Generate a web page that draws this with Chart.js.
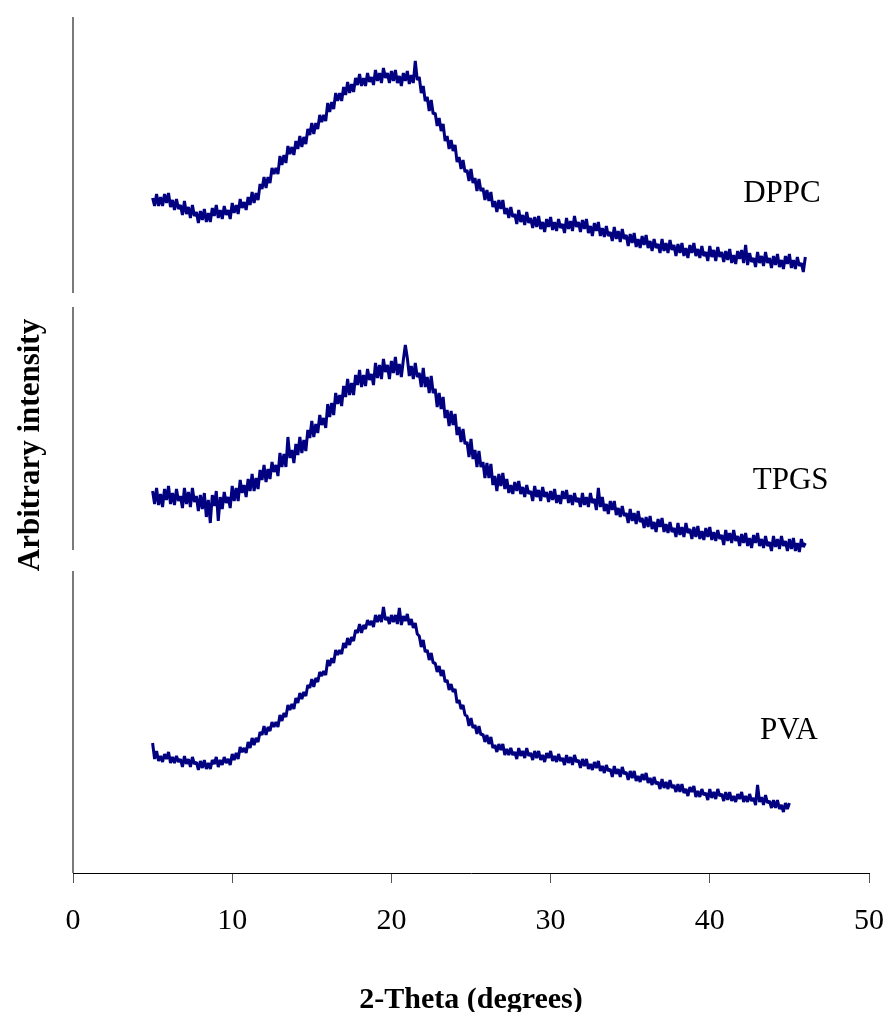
<!DOCTYPE html>
<html>
<head>
<meta charset="utf-8">
<script src="https://cdn.jsdelivr.net/npm/chart.js@4/dist/chart.umd.min.js"></script>
<style>
  body { margin: 0; background: #fff; }
</style>
</head>
<body>
<canvas id="myChart" width="885" height="1012"></canvas>
<script>
'use strict';

// 2-theta sampling: from 5 deg, every 0.125 deg
const twoThetaStart = 5;
const twoThetaStep = 0.125;

// arbitrary intensity (each trace sits in its own band)
const dppc = [
  675, 667, 679, 667, 676, 667, 679, 670, 680, 666, 673, 663, 674, 664, 668, 658, 672, 659, 666, 655,
  668, 657, 661, 650, 662, 653, 664, 651, 660, 651, 665, 657, 668, 655, 663, 654, 667, 658, 663, 654,
  670, 660, 668, 659, 674, 665, 671, 663, 676, 668, 681, 670, 680, 673, 689, 684, 696, 685, 696, 690,
  705, 699, 705, 699, 717, 708, 718, 710, 727, 719, 726, 718, 732, 724, 737, 726, 736, 729, 744, 738,
  750, 739, 750, 744, 758, 751, 758, 752, 770, 761, 771, 764, 780, 772, 780, 772, 786, 778, 791, 780,
  789, 781, 795, 788, 799, 787, 795, 787, 800, 791, 796, 788, 803, 792, 800, 790, 805, 795, 800, 790,
  802, 792, 803, 790, 797, 787, 800, 792, 802, 789, 798, 790, 812, 793, 796, 780, 787, 772, 776, 762,
  773, 759, 760, 747, 755, 742, 749, 732, 737, 724, 733, 722, 728, 711, 716, 704, 713, 701, 703, 692,
  704, 690, 695, 682, 694, 682, 685, 673, 683, 672, 681, 666, 672, 661, 673, 664, 673, 659, 665, 655,
  666, 656, 659, 649, 663, 651, 658, 648, 661, 650, 655, 645, 656, 646, 657, 644, 651, 641, 654, 646,
  656, 643, 651, 642, 654, 645, 649, 640, 655, 644, 652, 642, 657, 646, 651, 641, 653, 644, 654, 640,
  647, 637, 650, 642, 651, 637, 645, 636, 647, 637, 641, 632, 646, 634, 642, 631, 644, 634, 638, 627,
  639, 630, 640, 626, 634, 625, 637, 628, 638, 625, 632, 622, 634, 625, 629, 620, 634, 622, 630, 620,
  633, 623, 628, 617, 629, 620, 630, 617, 625, 615, 628, 620, 630, 617, 624, 615, 627, 617, 621, 612,
  627, 616, 623, 612, 626, 616, 621, 611, 622, 613, 624, 610, 618, 609, 622, 614, 623, 610, 628, 608,
  620, 611, 615, 606, 621, 610, 617, 607, 621, 610, 615, 605, 617, 608, 619, 606, 613, 604, 617, 609,
  619, 605, 613, 604, 616, 607, 610, 601, 616
];

const tpgs = [
  382, 369, 385, 368, 379, 366, 384, 373, 387, 369, 380, 368, 384, 372, 377, 365, 385, 369, 381, 366,
  385, 371, 377, 362, 378, 364, 380, 356, 373, 350, 378, 367, 382, 352, 376, 364, 381, 370, 376, 365,
  387, 372, 385, 372, 393, 380, 388, 376, 394, 382, 399, 382, 395, 384, 403, 393, 408, 391, 404, 394,
  411, 401, 408, 397, 420, 406, 419, 406, 436, 415, 423, 410, 429, 418, 436, 420, 433, 422, 443, 435,
  452, 436, 449, 440, 458, 448, 455, 445, 469, 456, 470, 458, 480, 469, 478, 467, 487, 476, 494, 478,
  490, 478, 498, 488, 503, 486, 498, 487, 504, 493, 499, 488, 510, 495, 508, 494, 514, 501, 508, 494,
  512, 500, 516, 498, 509, 496, 513, 528, 515, 497, 507, 494, 510, 496, 500, 486, 505, 486, 496, 480,
  497, 480, 484, 466, 480, 464, 476, 455, 463, 447, 462, 448, 459, 438, 446, 431, 444, 429, 431, 416,
  434, 414, 423, 406, 422, 406, 411, 395, 410, 395, 409, 388, 397, 382, 399, 387, 400, 384, 394, 380,
  388, 379, 391, 382, 392, 379, 386, 376, 388, 379, 382, 372, 387, 376, 383, 372, 386, 376, 381, 371,
  382, 373, 384, 370, 378, 369, 382, 374, 383, 370, 378, 368, 380, 371, 375, 366, 380, 368, 376, 366,
  380, 370, 374, 363, 385, 366, 376, 362, 369, 359, 372, 363, 372, 358, 365, 356, 367, 357, 360, 350,
  364, 352, 360, 349, 362, 351, 355, 345, 356, 346, 357, 344, 351, 341, 354, 346, 355, 341, 349, 340,
  351, 341, 345, 336, 350, 338, 346, 336, 350, 340, 344, 334, 346, 336, 347, 334, 342, 333, 345, 336,
  346, 333, 341, 332, 343, 334, 338, 328, 343, 332, 340, 330, 343, 332, 337, 327, 339, 330, 340, 327,
  335, 325, 338, 330, 340, 327, 334, 325, 337, 327, 331, 322, 337, 326, 334, 324, 337, 327, 332, 322,
  334, 324, 335, 322, 330, 321, 334, 326, 330
];

const pva = [
  130, 114, 122, 112, 117, 111, 119, 114, 121, 110, 116, 110, 117, 111, 114, 106, 117, 109, 114, 106,
  116, 109, 111, 103, 112, 105, 113, 104, 110, 104, 113, 109, 116, 106, 113, 108, 116, 110, 114, 108,
  119, 113, 120, 114, 126, 121, 125, 120, 131, 125, 135, 128, 135, 131, 141, 138, 147, 138, 146, 142,
  151, 146, 151, 146, 158, 152, 160, 156, 168, 163, 169, 164, 175, 170, 180, 174, 181, 177, 188, 185,
  194, 186, 195, 191, 201, 197, 202, 198, 213, 207, 215, 210, 223, 218, 223, 219, 230, 225, 235, 228,
  236, 232, 243, 240, 249, 240, 248, 244, 253, 248, 252, 246, 258, 251, 258, 251, 266, 253, 256, 249,
  258, 251, 258, 249, 265, 248, 257, 252, 259, 248, 254, 245, 250, 239, 237, 226, 233, 221, 223, 213,
  220, 210, 210, 201, 207, 197, 203, 191, 193, 183, 189, 181, 184, 170, 173, 164, 168, 158, 157, 147,
  155, 145, 148, 139, 147, 138, 139, 131, 138, 129, 136, 125, 128, 121, 129, 123, 129, 118, 124, 118,
  125, 118, 121, 114, 125, 117, 122, 115, 125, 117, 120, 113, 122, 115, 122, 113, 118, 111, 120, 115,
  122, 112, 117, 111, 119, 112, 115, 108, 118, 110, 116, 108, 118, 111, 113, 105, 114, 107, 114, 104,
  109, 103, 111, 105, 112, 102, 107, 100, 108, 102, 104, 96, 107, 99, 104, 96, 106, 99, 101, 93,
  102, 95, 102, 92, 97, 91, 99, 93, 100, 90, 95, 88, 96, 89, 91, 84, 94, 85, 91, 84,
  93, 85, 88, 81, 89, 81, 89, 80, 84, 77, 86, 81, 87, 76, 82, 76, 84, 78, 80, 73,
  84, 75, 81, 74, 84, 77, 79, 72, 81, 73, 81, 72, 77, 71, 79, 74, 81, 71, 77, 71,
  79, 72, 75, 68, 88, 71, 76, 68, 78, 70, 72, 65, 73, 65, 73, 64, 68, 61, 70, 64,
  70
];

const seriesNames = ['DPPC', 'TPGS', 'PVA'];
const xTicks = [0, 10, 20, 30, 40, 50];

const serif = "'Liberation Serif', 'Times New Roman', serif";

function toPoints(values) {
  return values.map((v, i) => ({ x: twoThetaStart + i * twoThetaStep, y: v }));
}

// the left axis is broken into one piece per trace
const axisPieces = [[0, 302], [323, 566], [580, 856]];
// where each trace name is written (data coords: left edge, middle)
const nameSpots = [[42.1, 679], [42.7, 392], [43.15, 142]];

const brokenAxis = {
  id: 'brokenAxis',
  afterDraw(chart) {
    const c = chart.ctx;
    const xs = chart.scales.x;
    const ys = chart.scales.y;
    const left = chart.chartArea.left;
    c.save();
    c.strokeStyle = '#333';
    c.lineWidth = 1.3;
    axisPieces.forEach(p => {
      c.beginPath();
      c.moveTo(left, ys.getPixelForValue(p[0]));
      c.lineTo(left, ys.getPixelForValue(p[1]));
      c.stroke();
    });
    c.fillStyle = '#000';
    c.font = '31px ' + serif;
    c.textAlign = 'left';
    c.textBaseline = 'middle';
    seriesNames.forEach((name, i) => {
      c.fillText(name, xs.getPixelForValue(nameSpots[i][0]), ys.getPixelForValue(nameSpots[i][1]));
    });
    c.restore();
  }
};

const ctx = document.getElementById('myChart');

new Chart(ctx, {
  type: 'line',
  data: {
    datasets: [dppc, tpgs, pva].map((vals, i) => ({
      label: seriesNames[i],
      data: toPoints(vals),
      borderColor: '#000080',
      borderWidth: 3,
      borderJoinStyle: 'bevel',
      pointRadius: 0,
      tension: 0,
      fill: false
    }))
  },
  options: {
    responsive: false,
    animation: false,
    layout: { padding: { top: 17, right: 0, left: 0, bottom: 0 } },
    plugins: {
      legend: { display: false },
      tooltip: { enabled: false }
    },
    scales: {
      x: {
        type: 'linear',
        min: 0,
        max: 50,
        afterBuildTicks: (scale) => { scale.ticks = xTicks.map(v => ({ value: v })); },
        afterFit: (scale) => {
          scale.height = 139;
          scale.paddingLeft = 0;
          scale.paddingRight = 16;
        },
        border: { display: true, color: '#000', width: 1 },
        grid: { display: true, drawOnChartArea: false, drawTicks: true, tickLength: 10, color: '#555' },
        ticks: {
          color: '#000',
          padding: 20,
          maxRotation: 0,
          autoSkip: false,
          font: { family: serif, size: 30 }
        },
        title: {
          display: true,
          text: '2-Theta (degrees)',
          color: '#000',
          padding: 0,
          font: { family: serif, size: 30, weight: 'bold', lineHeight: 0.8 }
        }
      },
      y: {
        min: 0,
        max: 856,
        afterFit: (scale) => { scale.width = 73; },
        border: { display: false },
        grid: { display: false },
        ticks: { display: false },
        title: {
          display: true,
          text: 'Arbitrary intensity',
          color: '#000',
          padding: { top: 12, bottom: 0 },
          font: { family: serif, size: 31, weight: 'bold', lineHeight: 1.2 }
        }
      }
    }
  },
  plugins: [brokenAxis]
});
</script>
</body>
</html>
